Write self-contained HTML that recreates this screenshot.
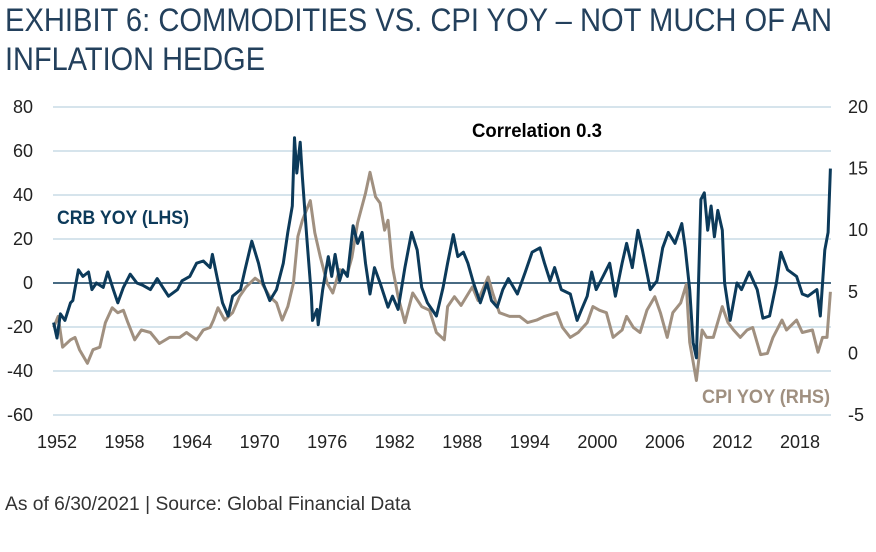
<!DOCTYPE html>
<html><head><meta charset="utf-8"><style>
html,body{margin:0;padding:0;background:#fff;}
svg{display:block;font-family:"Liberation Sans",sans-serif;}
</style></head><body>
<svg id="chart" width="876" height="552" viewBox="0 0 876 552">
<text x="5" y="31" font-size="32" fill="#23405c" textLength="827" lengthAdjust="spacingAndGlyphs">EXHIBIT 6: COMMODITIES VS. CPI YOY – NOT MUCH OF AN</text>
<text x="5" y="70" font-size="32" fill="#23405c" textLength="260" lengthAdjust="spacingAndGlyphs">INFLATION HEDGE</text>
<g id="grid"></g>
<g id="yl"></g>
<g id="yr"></g>
<g id="xa"></g>
<path id="cpi" fill="none" stroke="#a09080" stroke-width="3" stroke-linejoin="round"></path>
<path id="crb" fill="none" stroke="#0c3a5a" stroke-width="3" stroke-linejoin="round"></path>
<text x="472" y="137" font-size="19" font-weight="bold" fill="#000" textLength="130" lengthAdjust="spacingAndGlyphs">Correlation 0.3</text>
<text x="57" y="224" font-size="19" font-weight="bold" fill="#0c3a5a" textLength="132" lengthAdjust="spacingAndGlyphs">CRB YOY (LHS)</text>
<text x="702" y="403" font-size="19" font-weight="bold" fill="#a09080" textLength="128" lengthAdjust="spacingAndGlyphs">CPI YOY (RHS)</text>
<text x="5" y="510" font-size="19" fill="#333" textLength="406" lengthAdjust="spacingAndGlyphs">As of 6/30/2021 | Source: Global Financial Data</text>
</svg>
<script>
const leftTicks=[80,60,40,20,0,-20,-40,-60];
const rightTicks=[20,15,10,5,0,-5];
const xTicks=[1952,1958,1964,1970,1976,1982,1988,1994,2000,2006,2012,2018];
const crbYears=[1951.7,1952.0,1952.3,1952.7,1953.2,1953.4,1953.9,1954.3,1954.8,1955.1,1955.5,1956.1,1956.5,1957,1957.4,1957.9,1958.5,1959.1,1959.6,1960.3,1960.9,1961.4,1961.9,1962.7,1963.1,1963.8,1964.4,1965,1965.6,1965.8,1966.2,1966.7,1967.2,1967.6,1968.3,1968.7,1969.3,1969.9,1970.3,1970.9,1971.5,1972.1,1972.5,1972.9,1973.1,1973.3,1973.6,1973.8,1974.2,1974.6,1974.7,1975.1,1975.2,1975.6,1976.1,1976.4,1976.7,1977.1,1977.4,1977.8,1978.3,1978.7,1979.1,1979.4,1979.8,1980.2,1980.7,1981.4,1981.8,1982.3,1982.9,1983.5,1984,1984.4,1984.9,1985.3,1985.7,1986.3,1986.7,1987.2,1987.6,1988.1,1988.5,1989,1989.6,1990.2,1990.6,1991.1,1991.6,1992.1,1992.9,1993.6,1994.2,1994.9,1995.3,1995.8,1996.2,1996.8,1997.6,1998.2,1998.6,1999.1,1999.5,1999.9,2000.5,2001.1,2001.6,2002.2,2002.6,2003.1,2003.6,2004.0,2004.7,2005.3,2005.8,2006.3,2006.9,2007.5,2007.8,2008.2,2008.5,2008.8,2009.2,2009.5,2009.8,2010.1,2010.4,2010.7,2011.1,2011.3,2011.8,2012.4,2012.8,2013.5,2014.2,2014.7,2015.3,2015.9,2016.3,2016.9,2017.7,2018.2,2018.7,2019.5,2019.8,2020.2,2020.5,2020.7];
const crbValues=[-18,-25,-14,-17,-9,-8,6,3,5,-3,0,-2,5,-3,-9,-2,4,0,-1,-3,2,-2,-6,-3,1,3,9,10,7,13,3,-9,-15,-6,-3,6,19,9,0,-8,-3,9,23,35,66,50,64,48,20,-6,-17,-12,-19,-3,12,3,13,1,6,3,26,18,23,9,-5,7,0,-11,-6,-12,7,23,15,-2,-9,-12,-15,-2,9,22,12,14,9,0,-9,0,-8,-11,-3,2,-5,5,14,16,9,1,7,-3,-5,-17,-12,-6,5,-3,3,9,-6,9,18,7,24,15,-3,1,16,23,18,27,16,-3,-27,-34,38,41,24,35,21,33,24,0,-17,0,-3,5,-3,-16,-15,0,14,6,3,-5,-6,-3,-15,15,23,52];
const cpiYears=[1951.7,1952.1,1952.5,1953.2,1953.6,1954,1954.7,1955.2,1955.8,1956.3,1956.9,1957.4,1957.9,1958.3,1958.9,1959.5,1960.3,1961.1,1962,1962.9,1963.5,1964.4,1965,1965.6,1965.9,1966.3,1966.9,1967.6,1968.2,1968.8,1969.6,1970.2,1970.9,1971.5,1972,1972.5,1973,1973.4,1973.8,1974.5,1974.9,1975.4,1976,1976.5,1977.1,1977.8,1978.2,1978.7,1979.4,1979.8,1980.3,1980.7,1981.1,1981.4,1981.8,1982.3,1982.9,1983.6,1984.4,1985.1,1985.7,1986.4,1986.7,1987.3,1987.9,1988.9,1989.4,1990.3,1990.7,1991.3,1992.2,1993.1,1993.8,1994.6,1995.3,1996.4,1996.9,1997.6,1998.3,1999.1,1999.6,2000.2,2000.8,2001.4,2002.2,2002.6,2003.2,2003.8,2004.4,2005.1,2005.6,2006.2,2006.7,2007.4,2007.9,2008.2,2008.8,2009.3,2009.7,2010.3,2011.1,2011.6,2012.1,2012.7,2013.3,2013.8,2014.5,2015.1,2015.6,2016.4,2016.8,2017.7,2018.2,2019.1,2019.6,2020,2020.4,2020.7];
const cpiValues=[2.1,3.0,0.5,1.1,1.3,0.3,-0.8,0.3,0.5,2.5,3.7,3.3,3.5,2.5,1.1,1.9,1.7,0.8,1.3,1.3,1.7,1.1,1.9,2.1,2.7,3.7,2.7,3.3,4.6,5.4,6.1,5.7,4.6,4.1,2.7,3.8,5.7,9.5,10.8,12.4,9.8,7.8,5.7,4.9,6.8,6.5,7.8,10.6,13.0,14.7,12.7,12.2,10,10.8,7.0,4.6,2.5,4.9,3.8,3.5,1.7,1.1,3.8,4.6,3.9,5.4,4.3,6.2,4.9,3.3,3,3,2.5,2.7,3,3.3,2.1,1.3,1.7,2.5,3.8,3.5,3.3,1.3,1.9,3,2.1,1.7,3.5,4.6,3.3,1.3,3.3,4.1,5.6,0.9,-2.2,1.9,1.3,1.3,3.8,2.5,1.9,1.3,1.9,2.1,-0.1,0,1.3,2.7,1.9,2.7,1.7,1.9,0.1,1.3,1.3,5];
const NS='http://www.w3.org/2000/svg';
const xS=y=>57+(y-1952)*(743/66);
const yL=v=>283-v*2.2;
const yR=v=>107+(20-v)*12.32;
function mk(tag,attrs,parent,txt){const e=document.createElementNS(NS,tag);for(const k in attrs)e.setAttribute(k,attrs[k]);if(txt!==undefined)e.textContent=txt;parent.appendChild(e);return e;}
const grid=document.getElementById('grid'),yl=document.getElementById('yl'),yr=document.getElementById('yr'),xa=document.getElementById('xa');
leftTicks.forEach(t=>{
  const l=mk('line',{x1:53,x2:831,y1:yL(t),y2:yL(t),stroke:t===0?'#0c3a5a':'#c9dbe6','stroke-width':t===0?1.5:1.5},grid);
  
  
  const tx=mk('text',{x:33,y:yL(t)+6,'text-anchor':'end','font-size':18,fill:'#222'},yl,String(t));
  
  
});
rightTicks.forEach(t=>{
  const tx=mk('text',{x:848,y:yR(t)+6,'font-size':18,fill:'#222'},yr,String(t));
  
  
});
xTicks.forEach(t=>{
  const tx=mk('text',{x:xS(t),y:448,'text-anchor':'middle','font-size':18,fill:'#222'},xa,String(t));
  
  
});
document.getElementById('crb').setAttribute('d',crbYears.map((y,i)=>(i?'L':'M')+xS(y).toFixed(1)+','+yL(crbValues[i]).toFixed(1)).join(''));
document.getElementById('cpi').setAttribute('d',cpiYears.map((y,i)=>(i?'L':'M')+xS(y).toFixed(1)+','+yR(cpiValues[i]).toFixed(1)).join(''));
</script>
</body></html>
